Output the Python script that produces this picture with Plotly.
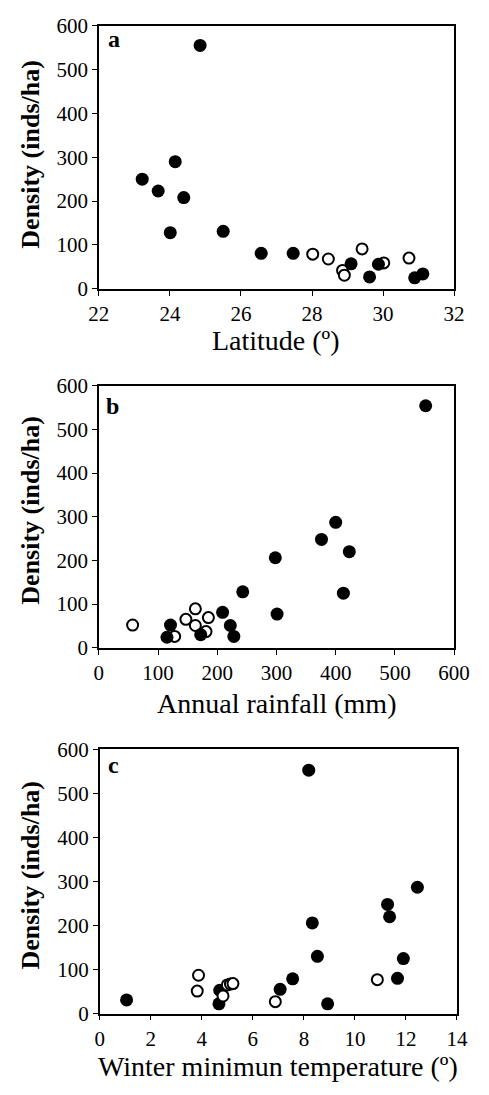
import plotly.graph_objects as go

# ---- Panel a: latitude ----
lat_filled = [24.85, 24.15, 23.22, 23.67, 24.39, 24.01, 25.50, 26.57, 27.47, 29.10, 29.87, 29.62, 30.89, 31.12]
dens_a_filled = [555, 290, 250, 223, 208, 128, 131, 81, 81, 57, 56, 27, 25, 34]
lat_open = [28.02, 28.46, 29.41, 28.86, 28.91, 30.02, 30.73]
dens_a_open = [79, 68, 91, 42, 31, 59, 70]

# ---- Panel b: annual rainfall ----
rain_filled = [552, 400, 376, 423, 298, 413, 243, 301, 209, 222, 228, 172, 121, 115]
dens_b_filled = [554, 287, 248, 220, 206, 125, 128, 77, 81, 51, 26, 30, 52, 24]
rain_open = [57, 147, 163, 163, 185, 181, 128]
dens_b_open = [52, 65, 89, 51, 69, 37, 26]

# ---- Panel c: winter minimum temperature ----
temp_filled = [8.19, 12.45, 11.28, 11.36, 8.33, 8.53, 11.90, 11.67, 7.56, 7.07, 8.93, 1.05, 4.67, 4.70]
dens_c_filled = [553, 287, 248, 220, 206, 130, 125, 80, 79, 55, 22, 31, 22, 53]
temp_open = [3.87, 3.82, 10.88, 6.88, 5.00, 5.12, 5.22, 4.83]
dens_c_open = [87, 51, 77, 27, 65, 67, 68, 40]

panel_letters = ["a", "b", "c"]
x_titles = ["Latitude (º)", "Annual rainfall (mm)", "Winter minimun temperature (º)"]
y_title = "Density (inds/ha)"

W, H = 489, 1095
FONT = "Liberation Serif"

# panel geometry (pixels)
X_DOMS = [(93, 469), (93, 469), (94, 472)]
Y_DOMS = [(14, 283), (382, 650), (754, 1024)]
XTITLE_Y = [336, 707, 1078]
YTITLE_Y = [145, 509, 882]
LETTER_POS = [(101, 28), (98, 403), (101, 770)]

def fx(px):
    return px / W

def fy(py):
    return 1 - py / H

fig = go.Figure()

filled_style = dict(size=13, color="black", line=dict(width=0))
open_style = dict(size=11, color="white", line=dict(width=2, color="black"))

# panel a: open below filled
fig.add_trace(go.Scatter(x=lat_open, y=dens_a_open, mode="markers", marker=open_style,
                         xaxis="x", yaxis="y", showlegend=False))
fig.add_trace(go.Scatter(x=lat_filled, y=dens_a_filled, mode="markers", marker=filled_style,
                         xaxis="x", yaxis="y", showlegend=False))
# panel b
fig.add_trace(go.Scatter(x=rain_open, y=dens_b_open, mode="markers", marker=open_style,
                         xaxis="x2", yaxis="y2", showlegend=False))
fig.add_trace(go.Scatter(x=rain_filled, y=dens_b_filled, mode="markers", marker=filled_style,
                         xaxis="x2", yaxis="y2", showlegend=False))
# panel c: filled below open
fig.add_trace(go.Scatter(x=temp_filled, y=dens_c_filled, mode="markers", marker=filled_style,
                         xaxis="x3", yaxis="y3", showlegend=False))
fig.add_trace(go.Scatter(x=temp_open, y=dens_c_open, mode="markers", marker=open_style,
                         xaxis="x3", yaxis="y3", showlegend=False))

common = dict(showgrid=False, zeroline=False, showline=True, linecolor="black", linewidth=1.5,
              mirror=True, ticks="outside", ticklen=5, tickwidth=1.2, tickcolor="black",
              tickfont=dict(family=FONT, size=21, color="black"))

x_ranges = [([22, 32], 22, 2), ([0, 600], 0, 100), ([0, 14], 0, 2)]

layout = dict(width=W, height=H, margin=dict(l=0, r=0, t=0, b=0),
              paper_bgcolor="white", plot_bgcolor="white")
for i in range(3):
    sfx = "" if i == 0 else str(i + 1)
    rng, t0, dt = x_ranges[i]
    x0, x1 = X_DOMS[i]
    top, bot = Y_DOMS[i]
    layout["xaxis" + sfx] = dict(common, domain=[fx(x0), fx(x1)], range=rng, tick0=t0, dtick=dt,
                                 anchor="y" + sfx)
    layout["yaxis" + sfx] = dict(common, domain=[fy(bot), fy(top)], range=[0, 600], tick0=0, dtick=100,
                                 anchor="x" + sfx)
fig.update_layout(**layout)

for i in range(3):
    x0, x1 = X_DOMS[i]
    # x axis title
    fig.add_annotation(text=x_titles[i], xref="paper", yref="paper",
                       x=fx((x0 + x1) / 2), y=fy(XTITLE_Y[i]), xanchor="center", yanchor="middle",
                       showarrow=False, font=dict(family=FONT, size=28, color="black"))
    # y axis title
    fig.add_annotation(text="<b>" + y_title + "</b>", xref="paper", yref="paper",
                       x=fx(21), y=fy(YTITLE_Y[i]), xanchor="center", yanchor="middle",
                       textangle=-90, showarrow=False, font=dict(family=FONT, size=26, color="black"))
    # panel letter
    lx, ly = LETTER_POS[i]
    fig.add_annotation(text="<b>" + panel_letters[i] + "</b>", xref="paper", yref="paper",
                       x=fx(lx), y=fy(ly), xanchor="left", yanchor="middle", showarrow=False,
                       font=dict(family=FONT, size=24, color="black"))

fig.write_html("out.html")
